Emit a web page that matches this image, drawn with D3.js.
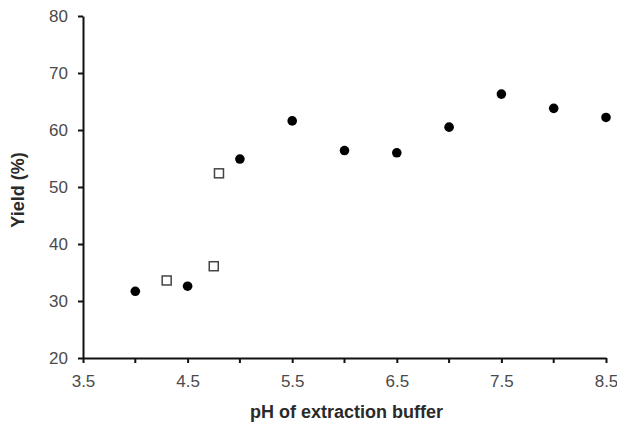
<!DOCTYPE html>
<html>
<head>
<meta charset="utf-8">
<script src="https://cdn.jsdelivr.net/npm/d3@7"></script>
<style>
  body { margin: 0; background: #fff; }
  svg { font-family: "Liberation Sans", Arial, sans-serif; }
</style>
</head>
<body>
<div id="chart"></div>
<script>
const width = 617,
  height = 427,
  margin = { top: 16, right: 10, bottom: 70, left: 83 };

// DATA
const phCircles = [4.0, 4.5, 5.0, 5.5, 6.0, 6.5, 7.0, 7.5, 8.0, 8.5];
const yieldCircles = [31.7, 32.6, 54.9, 61.6, 56.4, 56.0, 60.5, 66.3, 63.8, 62.2];
const phSquares = [4.3, 4.75, 4.8];
const yieldSquares = [33.6, 36.1, 52.4];
const xTicks = [3.5, 4.5, 5.5, 6.5, 7.5, 8.5];
const xMinorTicks = [4.0, 5.0, 6.0, 7.0, 8.0];
const yTicks = [20, 30, 40, 50, 60, 70, 80];

const circles = phCircles.map((d, i) => ({ x: d, y: yieldCircles[i] }));
const squares = phSquares.map((d, i) => ({ x: d, y: yieldSquares[i] }));

const svg = d3.select("#chart")
  .append("svg")
  .attr("width", width)
  .attr("height", height);

// SCALES
const x = d3.scaleLinear()
  .domain([3.5, 8.5])
  .range([margin.left, 606]);

const y = d3.scaleLinear()
  .domain([20, 80])
  .range([358, margin.top]);

// X AXIS
const xAxis = svg.append("g")
  .attr("transform", `translate(0,${y(20)})`)
  .call(d3.axisBottom(x).tickValues(xTicks).tickFormat(d3.format(".1f")).tickSize(5).tickSizeOuter(0).tickPadding(12));

// minor ticks between labels
xAxis.selectAll(".minor")
  .data(xMinorTicks)
  .enter()
  .append("line")
  .attr("class", "minor")
  .attr("x1", d => x(d))
  .attr("x2", d => x(d))
  .attr("y1", 0)
  .attr("y2", 5)
  .attr("stroke", "#111")
  .attr("stroke-width", 2);

// Y AXIS
const yAxis = svg.append("g")
  .attr("transform", `translate(${x(3.5)},0)`)
  .call(d3.axisLeft(y).tickValues(yTicks).tickSize(5).tickSizeOuter(0).tickPadding(10));

[xAxis, yAxis].forEach(ax => {
  ax.select(".domain").attr("stroke", "#111").attr("stroke-width", 2);
  ax.selectAll(".tick line").attr("stroke", "#111").attr("stroke-width", 2);
  ax.selectAll(".tick text")
    .attr("fill", "#4a4a4a")
    .attr("font-size", 17);
});

// AXIS TITLES
svg.append("text")
  .attr("x", (x(3.5) + x(8.5)) / 2 + 2)
  .attr("y", 418)
  .attr("text-anchor", "middle")
  .attr("font-size", 18)
  .attr("font-weight", "bold")
  .attr("fill", "#2a2a2a")
  .text("pH of extraction buffer");

svg.append("text")
  .attr("transform", "translate(24,190) rotate(-90)")
  .attr("text-anchor", "middle")
  .attr("font-size", 18)
  .attr("font-weight", "bold")
  .attr("fill", "#2a2a2a")
  .text("Yield (%)");

// POINTS
svg.append("g")
  .selectAll("circle")
  .data(circles)
  .enter()
  .append("circle")
  .attr("cx", d => x(d.x))
  .attr("cy", d => y(d.y))
  .attr("r", 4.8)
  .attr("fill", "#000");

svg.append("g")
  .selectAll("rect")
  .data(squares)
  .enter()
  .append("rect")
  .attr("x", d => x(d.x) - 4.5)
  .attr("y", d => y(d.y) - 4.5)
  .attr("width", 9)
  .attr("height", 9)
  .attr("fill", "#fff")
  .attr("stroke", "#444")
  .attr("stroke-width", 1.5);
</script>
</body>
</html>
